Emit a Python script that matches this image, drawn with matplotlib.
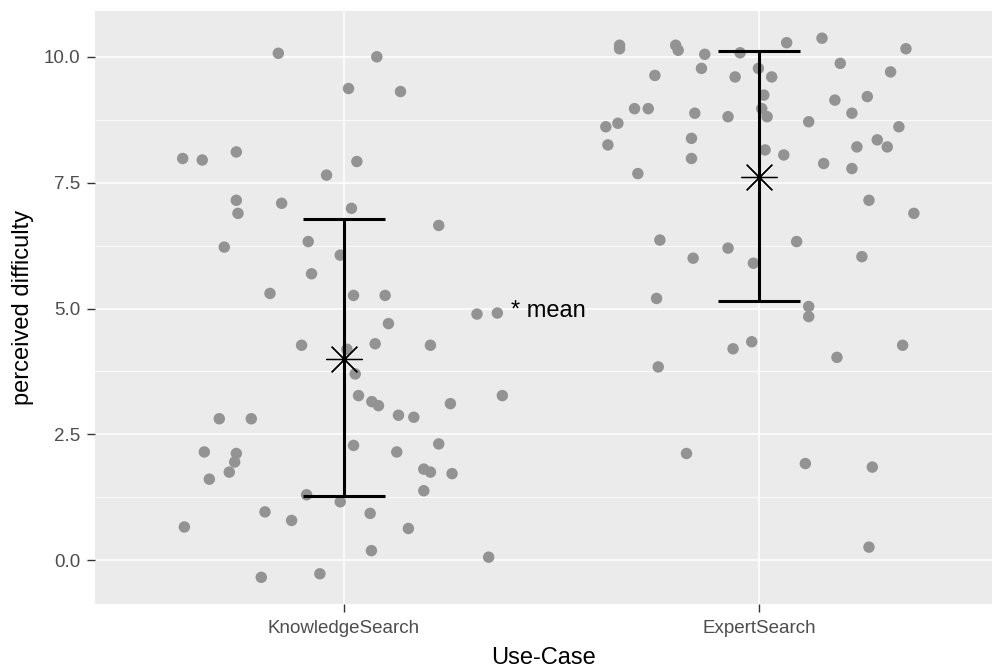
import matplotlib
matplotlib.use("Agg")
import matplotlib.pyplot as plt
import numpy as np

plt.rcParams['font.family'] = ['Liberation Sans', 'DejaVu Sans']

# categorias
categorias = ["KnowledgeSearch", "ExpertSearch"]

# pontos com jitter (deslocamento em x relativo a categoria, valor em y)
ks_jit = [-0.157, 0.080, 0.012, 0.137, -0.387, -0.340, -0.258, 0.032, -0.041, -0.258,
          -0.149, -0.254, 0.019, 0.229, -0.287, -0.085, -0.008, -0.077, -0.177, 0.024,
          0.100, 0.321, 0.370, 0.108, -0.101, 0.076, 0.209, 0.008, 0.028, 0.036,
          0.068, 0.084, 0.382, 0.257, 0.132, 0.169, -0.299, -0.222, 0.024, 0.229,
          0.128, -0.335, -0.258, -0.262, -0.275, -0.323, 0.193, 0.209, 0.261, 0.193,
          -0.089, -0.008, -0.189, -0.125, 0.064, 0.156, -0.383, 0.067, 0.349, -0.198,
          -0.057]
ks_y = [10.07, 10.00, 9.37, 9.31, 7.98, 7.95, 8.11, 7.92, 7.65, 7.15,
        7.09, 6.89, 6.99, 6.65, 6.22, 6.33, 6.06, 5.69, 5.30, 5.26,
        5.26, 4.89, 4.91, 4.70, 4.27, 4.30, 4.27, 4.19, 3.70, 3.27,
        3.15, 3.07, 3.27, 3.11, 2.88, 2.84, 2.81, 2.81, 2.28, 2.31,
        2.15, 2.15, 2.12, 1.95, 1.75, 1.61, 1.81, 1.75, 1.72, 1.38,
        1.30, 1.16, 0.96, 0.79, 0.93, 0.63, 0.66, 0.19, 0.06, -0.34,
        -0.27]

es_jit = [-0.336, -0.336, -0.201, -0.195, -0.131, -0.046, 0.066, 0.151, 0.353, -0.251,
          -0.139, -0.058, -0.002, 0.030, 0.195, 0.316, 0.011, -0.300, -0.267, -0.155,
          -0.075, 0.006, 0.019, 0.182, 0.260, 0.223, -0.369, -0.340, -0.364, -0.163,
          -0.163, 0.119, 0.336, 0.235, 0.284, 0.308, 0.014, 0.059, 0.155, 0.223,
          -0.292, 0.264, 0.372, -0.239, -0.075, -0.159, 0.090, 0.247, -0.014, -0.247,
          0.119, 0.119, -0.063, -0.018, 0.187, 0.345, -0.243, -0.175, 0.111, 0.272,
          0.264]
es_y = [10.23, 10.16, 10.23, 10.13, 10.05, 10.08, 10.28, 10.37, 10.16, 9.63,
        9.77, 9.60, 9.77, 9.60, 9.87, 9.70, 9.24, 8.97, 8.97, 8.88,
        8.81, 8.97, 8.81, 9.14, 9.21, 8.88, 8.61, 8.68, 8.25, 8.38,
        7.98, 8.71, 8.61, 8.21, 8.35, 8.21, 8.15, 8.05, 7.88, 7.78,
        7.68, 7.15, 6.89, 6.36, 6.20, 6.00, 6.33, 6.03, 5.90, 5.20,
        5.04, 4.84, 4.20, 4.34, 4.03, 4.27, 3.84, 2.12, 1.92, 1.85,
        0.26]

# media e barra de erro
medias = [3.99, 7.62]
barra_min = [1.27, 5.15]
barra_max = [6.78, 10.12]

# -------------------------------------------------------
fig = plt.figure(figsize=(9.94, 6.67), dpi=100)
ax = fig.add_axes([95/994, 1 - 604/667, (992 - 95)/994, (604 - 11)/667])
ax.set_facecolor('#EBEBEB')
for s in ax.spines.values():
    s.set_visible(False)

ax.set_xlim(0.402, 2.56)
ax.set_ylim(-0.87, 10.91)

# grade
ax.set_yticks([0, 2.5, 5, 7.5, 10])
ax.set_yticks([1.25, 3.75, 6.25, 8.75], minor=True)
ax.set_xticks([1, 2])
ax.grid(which='major', color='white', linewidth=1.1)
ax.grid(which='minor', axis='y', color='white', linewidth=0.55)
ax.set_axisbelow(True)

# pontos
ax.scatter(1 + np.array(ks_jit), ks_y, s=68, color='#939393', edgecolors='none', zorder=2)
ax.scatter(2 + np.array(es_jit), es_y, s=68, color='#939393', edgecolors='none', zorder=2)

# barras de erro
pos = np.arange(1, len(categorias) + 1)
ax.errorbar(pos, medias,
            yerr=[np.array(medias) - np.array(barra_min), np.array(barra_max) - np.array(medias)],
            fmt='none', ecolor='black', elinewidth=2.2, capsize=29.5, capthick=2.2, zorder=3)
ax.plot(pos, medias, linestyle='none', marker=(8, 2, 0), markersize=26,
        markeredgewidth=0.9, color='black', zorder=4)

ax.text(1.404, 4.95, "* mean", fontsize=17, va='center', ha='left', color='black')

# eixos
ax.set_yticklabels(['0.0', '2.5', '5.0', '7.5', '10.0'])
ax.set_xticklabels(categorias)
ax.tick_params(which='major', length=5.5, width=1.0, color='#333333',
               labelcolor='#4D4D4D', labelsize=13.5)
ax.tick_params(axis='x', pad=6)
ax.tick_params(axis='y', pad=5)
ax.tick_params(which='minor', length=0)
ax.set_xlabel("Use-Case", fontsize=17, color='black', labelpad=7)
ax.set_ylabel("perceived difficulty", fontsize=17, color='black', labelpad=7)

fig.savefig('out.png', dpi=100)
